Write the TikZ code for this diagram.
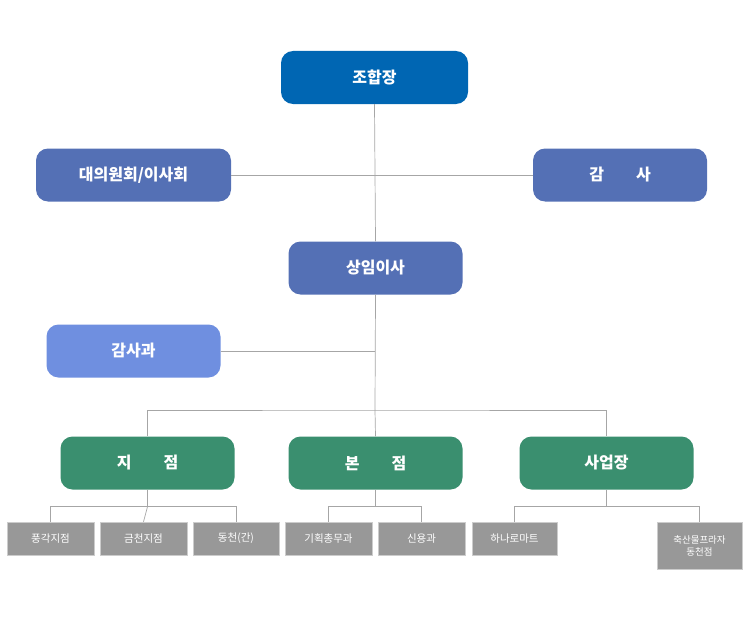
\documentclass[tikz,border=0pt]{standalone}
\usepackage{fontspec}
\setmainfont{Noto Sans CJK KR}
\begin{document}
\begin{tikzpicture}[x=1pt,y=-1pt,
 box/.style={rounded corners=12pt,text=white,font=\bfseries\fontsize{16}{18}\selectfont,minimum width=174pt,minimum height=53pt,inner sep=0},
 sm/.style={fill=gray!85!black!70,draw=gray!40,text=white,font=\fontsize{10.5}{13}\selectfont,minimum width=87pt,minimum height=33pt,inner sep=1pt,align=center},
 ln/.style={draw=gray!70,line width=0.7pt}]
\useasboundingbox (0,0) rectangle (750,626);
\definecolor{b1}{RGB}{0,102,179}\definecolor{b2}{RGB}{84,112,181}
\definecolor{b3}{RGB}{111,143,224}\definecolor{g1}{RGB}{58,143,111}
\node[box,fill=b1,minimum width=187pt] (ceo) at (374.5,77.5) {조합장};
\node[box,fill=b2,minimum width=195pt] (bd) at (133.5,175) {대의원회/이사회};
\node[box,fill=b2] (aud) at (620,175) {감\hspace{2em}사};
\node[box,fill=b2] (ex) at (375.5,268) {상임이사};
\node[box,fill=b3] (ad) at (133.5,351) {감사과};
\node[box,fill=g1] (br) at (147.5,463) {지\hspace{2em}점};
\node[box,fill=g1] (hq) at (375.5,463) {본\hspace{2em}점};
\node[box,fill=g1] (biz) at (606.5,463) {사업장};
\node[sm] (s1) at (50.5,538.5) {풍각지점};
\node[sm] (s2) at (143.5,538.5) {금천지점};
\node[sm,minimum width=86pt] (s3) at (236,538.5) {동천(간)};
\node[sm] (s4) at (328.5,538.5) {기획총무과};
\node[sm] (s5) at (421.5,538.5) {신용과};
\node[sm,minimum width=85pt] (s6) at (514.5,538.5) {하나로마트};
\node[sm,minimum width=85pt,minimum height=47pt,font=\fontsize{9.5}{12}\selectfont] (s7) at (699.5,545.5) {축산물프라자\\동천점};
\coordinate (j1) at (375,175); \coordinate (j2) at (375,351); \coordinate (j3) at (375,410);
\begin{scope}[on background layer/.style={}]
\draw[ln] (ceo.south) -- (ex.north);
\draw[ln] (bd.east) -- (aud.west);
\draw[ln] (ex.south) -- (j3);
\draw[ln] (ad.east) -- (j2);
\draw[ln] (br.north) |- (j3) -| (biz.north);
\draw[ln] (j3) -- (hq.north);
\draw[ln] (br.south) -- ++(0,17) coordinate (k1);
\draw[ln] (s1.north) |- (k1) -| (s3.north); \draw[ln] (k1) -- (s2.north);
\draw[ln] (hq.south) -- ++(0,17) coordinate (k2);
\draw[ln] (s4.north) |- (k2) -| (s5.north);
\draw[ln] (biz.south) -- ++(0,17) coordinate (k3);
\draw[ln] (s6.north) |- (k3) -| (s7.north);
\end{scope}
\end{tikzpicture}
\end{document}
